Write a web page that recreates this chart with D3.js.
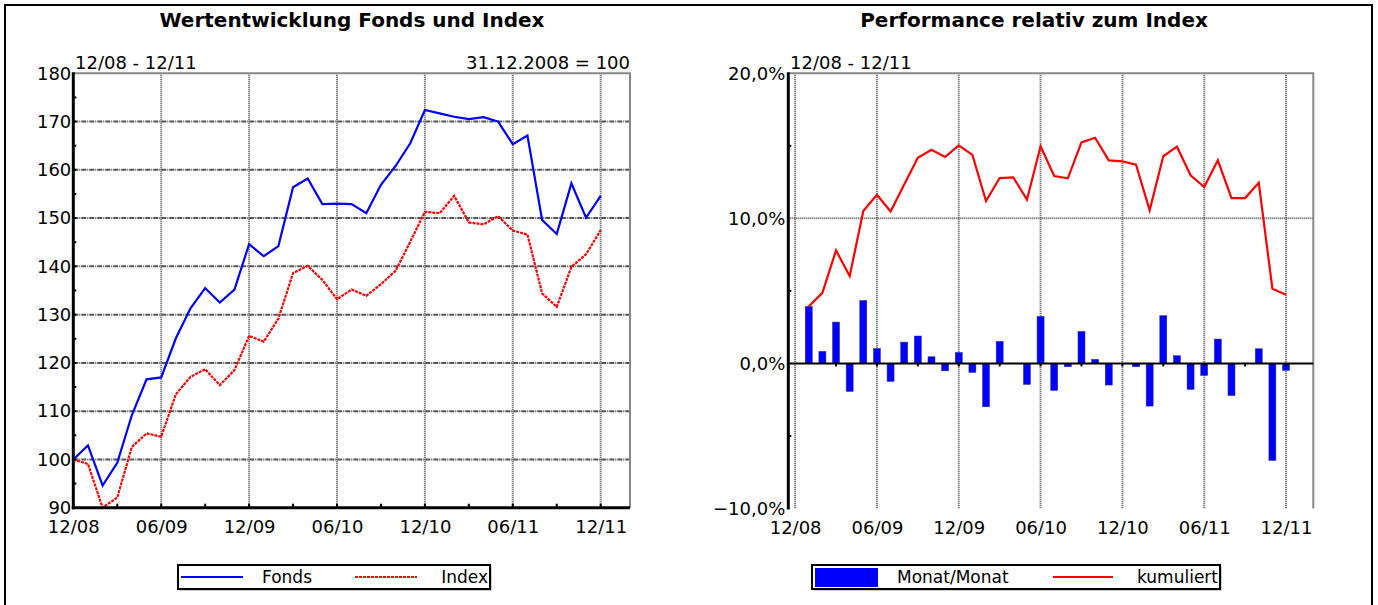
<!DOCTYPE html>
<html><head><meta charset="utf-8">
<script src="https://cdn.jsdelivr.net/npm/d3@7"></script>
<style>
body{margin:0;background:#fff;}
svg{display:block;font-family:"DejaVu Sans",Verdana,sans-serif;}
</style></head>
<body><svg id="c" width="1378" height="605"></svg>
<script>
// ---- data ----
const monthTicks = [0, 6, 12, 18, 24, 30, 36];
const monthLabels = ["12/08", "06/09", "12/09", "06/10", "12/10", "06/11", "12/11"];
const leftYTicks = [90, 100, 110, 120, 130, 140, 150, 160, 170, 180];
const rightYTicks = [-10, 0, 10, 20];
const fonds = [100,102.9,94.6,99.3,109.2,116.6,117.0,125.1,131.3,135.5,132.5,135.2,144.6,142.1,144.2,156.4,158.2,152.9,153.0,152.9,151.0,156.9,160.8,165.5,172.4,171.7,171.0,170.5,170.9,170.0,165.3,167.1,149.6,146.7,157.2,150.1,154.6];
const indexVals = [100,99.05,90.0,92.1,102.6,105.4,104.7,113.5,117.1,118.7,115.4,118.5,125.6,124.4,129.2,138.6,140.1,137.2,133.2,135.2,133.9,136.3,139.1,145.1,151.3,151.0,154.6,149.1,148.7,150.4,147.4,146.6,134.4,131.6,139.9,142.5,147.5];
const monthly = [3.93,0.83,2.85,-1.93,4.34,1.03,-1.24,1.47,1.89,0.46,-0.51,0.76,-0.62,-2.99,1.52,0.02,-1.45,3.24,-1.86,-0.23,2.21,0.28,-1.49,0.0,-0.23,-2.94,3.29,0.53,-1.79,-0.83,1.68,-2.21,0.02,1.01,-6.69,-0.48];
const cumul = [3.93,4.87,7.79,6.02,10.5,11.63,10.48,12.34,14.18,14.73,14.23,15.03,14.37,11.2,12.78,12.83,11.29,14.97,12.92,12.76,15.24,15.56,14.0,13.93,13.7,10.55,14.28,14.94,12.97,12.16,14.0,11.4,11.4,12.46,5.15,4.74];

const svg = d3.select("#c");
const FS = 18;
const LFS = 17;

// outer frame
svg.append("rect").attr("x",5).attr("y",5).attr("width",1367).attr("height",640)
  .attr("fill","none").attr("stroke","#000").attr("stroke-width",2);

function gridStyle(sel, vertical){
  sel.attr("stroke", "#555").attr("stroke-width", 2)
     .attr("stroke-dasharray", vertical ? "1,1" : "5,1,1,1");
}

// ================= LEFT CHART =================
const xL = d3.scaleLinear().domain([0, 38]).range([73.3, 630]);
const yL = d3.scaleLinear().domain([90, 180]).range([507.7, 73.3]);
const gL = svg.append("g");

gL.append("text").attr("x", 352).attr("y", 27).attr("text-anchor","middle")
  .attr("font-weight","bold").attr("font-size", 20).text("Wertentwicklung Fonds und Index");
gL.append("text").attr("x", 75).attr("y", 69).attr("font-size", FS).text("12/08 - 12/11");
gL.append("text").attr("x", 630).attr("y", 69).attr("text-anchor","end").attr("font-size", FS).text("31.12.2008 = 100");

// grid
gL.selectAll(".hg").data(leftYTicks.filter(v => v > 90 && v < 180)).join("line")
  .attr("x1", xL(0)).attr("x2", xL(38)).attr("y1", d => yL(d)).attr("y2", d => yL(d))
  .call(s => gridStyle(s, false));
gL.selectAll(".vg").data(monthTicks.filter(v => v > 0)).join("line")
  .attr("x1", d => xL(d)).attr("x2", d => xL(d)).attr("y1", yL(180)).attr("y2", yL(90))
  .call(s => gridStyle(s, true));
// top/right border
gL.append("path").attr("d", `M${xL(0)},${yL(180)}H${xL(38)}V${yL(90)}`)
  .attr("fill","none").attr("stroke","#888").attr("stroke-width",2);

// lines
const lineL = d3.line().x((d,i) => xL(i)).y(d => yL(d));
gL.append("path").datum(indexVals).attr("d", lineL).attr("fill","none")
  .attr("stroke","#ff0000").attr("stroke-width",2.2).attr("stroke-dasharray","3,1");
gL.append("path").datum(fonds).attr("d", lineL).attr("fill","none")
  .attr("stroke","#0000ff").attr("stroke-width",2.2);

// axes
const axL = gL.append("g").attr("transform", `translate(${xL(0)},0)`)
  .call(d3.axisLeft(yL).tickValues(leftYTicks).tickSize(0).tickPadding(2));
axL.select(".domain").remove();
axL.selectAll("text").attr("font-size", FS).attr("font-family","DejaVu Sans").attr("fill","#000");
const axB = gL.append("g").attr("transform", `translate(0,${yL(90)})`)
  .call(d3.axisBottom(xL).tickValues(monthTicks).tickFormat((d,i) => monthLabels[i]).tickSize(0).tickPadding(13));
axB.select(".domain").remove();
axB.selectAll("text").attr("font-size", FS).attr("font-family","DejaVu Sans").attr("fill","#000");

gL.append("line").attr("x1", xL(0)).attr("x2", xL(0)).attr("y1", yL(180)-1).attr("y2", yL(90)+1.5)
  .attr("stroke","#000").attr("stroke-width",3);
gL.append("line").attr("x1", xL(0)-1.5).attr("x2", xL(38)).attr("y1", yL(90)).attr("y2", yL(90))
  .attr("stroke","#000").attr("stroke-width",3);
// minor ticks
gL.selectAll(".myt").data(d3.range(95, 180, 5)).join("line")
  .attr("x1", xL(0)).attr("x2", xL(0)+3).attr("y1", d => yL(d)).attr("y2", d => yL(d))
  .attr("stroke","#000").attr("stroke-width",2);
gL.selectAll(".mxt").data(d3.range(3, 38, 3)).join("line")
  .attr("x1", d => xL(d)).attr("x2", d => xL(d)).attr("y1", yL(90)).attr("y2", yL(90)-4)
  .attr("stroke","#000").attr("stroke-width",2);

// legend left
const lgL = svg.append("g");
lgL.append("rect").attr("x",180).attr("y",567).attr("width",312).attr("height",24).attr("fill","#ccc");
lgL.append("rect").attr("x",178).attr("y",565).attr("width",312).attr("height",24)
  .attr("fill","#fff").attr("stroke","#000").attr("stroke-width",2);
lgL.append("line").attr("x1",181).attr("x2",243).attr("y1",577).attr("y2",577)
  .attr("stroke","#0000ff").attr("stroke-width",2);
lgL.append("text").attr("x",262).attr("y",583).attr("font-size",LFS).text("Fonds");
lgL.append("line").attr("x1",355).attr("x2",417).attr("y1",577).attr("y2",577)
  .attr("stroke","#ff0000").attr("stroke-width",2).attr("stroke-dasharray","3,1");
lgL.append("text").attr("x",488).attr("y",583).attr("text-anchor","end").attr("font-size",LFS).text("Index");

// ================= RIGHT CHART =================
const xR = d3.scaleLinear().domain([-0.5, 38]).range([788.3, 1313.3]);
const yR = d3.scaleLinear().domain([-10, 20]).range([508.5, 73.3]);
const gR = svg.append("g");

gR.append("text").attr("x", 1034).attr("y", 27).attr("text-anchor","middle")
  .attr("font-weight","bold").attr("font-size", 20).text("Performance relativ zum Index");
gR.append("text").attr("x", 790).attr("y", 69).attr("font-size", FS).text("12/08 - 12/11");

gR.selectAll(".hg").data([10]).join("line")
  .attr("x1", xR(-0.5)).attr("x2", xR(38)).attr("y1", d => yR(d)).attr("y2", d => yR(d))
  .call(s => gridStyle(s, true));
gR.selectAll(".vg").data(monthTicks).join("line")
  .attr("x1", d => xR(d)).attr("x2", d => xR(d)).attr("y1", yR(20)).attr("y2", yR(-10))
  .call(s => gridStyle(s, true));
gR.append("path").attr("d", `M${xR(-0.5)},${yR(20)}H${xR(38)}V${yR(-10)}`)
  .attr("fill","none").attr("stroke","#888").attr("stroke-width",2);

// bars
const bw = 7;
gR.selectAll(".bar").data(monthly).join("rect")
  .attr("x", (d,i) => xR(i+1) - bw/2).attr("width", bw)
  .attr("y", d => yR(Math.max(0,d))).attr("height", d => Math.abs(yR(d) - yR(0)))
  .attr("fill","#0000ff").attr("stroke","#2a2a9a").attr("stroke-width",0.5);

// zero line
gR.append("line").attr("x1", xR(-0.5)).attr("x2", xR(38)).attr("y1", yR(0)).attr("y2", yR(0))
  .attr("stroke","#000").attr("stroke-width",2);
gR.selectAll(".zt").data(d3.range(3, 38, 3)).join("line")
  .attr("x1", d => xR(d)).attr("x2", d => xR(d)).attr("y1", yR(0)).attr("y2", yR(0)+3)
  .attr("stroke","#000").attr("stroke-width",2);

// cumulative line
const lineR = d3.line().x((d,i) => xR(i+1)).y(d => yR(d));
gR.append("path").datum(cumul).attr("d", lineR).attr("fill","none")
  .attr("stroke","#ff0000").attr("stroke-width",2.2);

// axes
const fmtPct = d => d3.format(".1f")(d).replace(".", ",") + "%";
const axR = gR.append("g").attr("transform", `translate(${xR(-0.5)},0)`)
  .call(d3.axisLeft(yR).tickValues(rightYTicks).tickFormat(fmtPct).tickSize(0).tickPadding(3));
axR.select(".domain").remove();
axR.selectAll("text").attr("font-size", FS).attr("font-family","DejaVu Sans").attr("fill","#000");
const axRB = gR.append("g").attr("transform", `translate(0,${yR(-10)})`)
  .call(d3.axisBottom(xR).tickValues(monthTicks).tickFormat((d,i) => monthLabels[i]).tickSize(0).tickPadding(13));
axRB.select(".domain").remove();
axRB.selectAll("text").attr("font-size", FS).attr("font-family","DejaVu Sans").attr("fill","#000");

gR.append("line").attr("x1", xR(-0.5)).attr("x2", xR(-0.5)).attr("y1", yR(20)-1).attr("y2", yR(-10)+1)
  .attr("stroke","#000").attr("stroke-width",3);
gR.selectAll(".myt").data([15, 5, -5]).join("line")
  .attr("x1", xR(-0.5)).attr("x2", xR(-0.5)+3).attr("y1", d => yR(d)).attr("y2", d => yR(d))
  .attr("stroke","#000").attr("stroke-width",2);

// legend right
const lgR = svg.append("g");
lgR.append("rect").attr("x",814).attr("y",567).attr("width",408).attr("height",24).attr("fill","#ccc");
lgR.append("rect").attr("x",812).attr("y",565).attr("width",408).attr("height",24)
  .attr("fill","#fff").attr("stroke","#000").attr("stroke-width",2);
lgR.append("rect").attr("x",815).attr("y",568).attr("width",63).attr("height",19).attr("fill","#0000ff");
lgR.append("text").attr("x",897).attr("y",583).attr("font-size",LFS).text("Monat/Monat");
lgR.append("line").attr("x1",1053).attr("x2",1113).attr("y1",577).attr("y2",577)
  .attr("stroke","#ff0000").attr("stroke-width",2);
lgR.append("text").attr("x",1218).attr("y",583).attr("text-anchor","end").attr("font-size",LFS).text("kumuliert");
</script></body></html>
